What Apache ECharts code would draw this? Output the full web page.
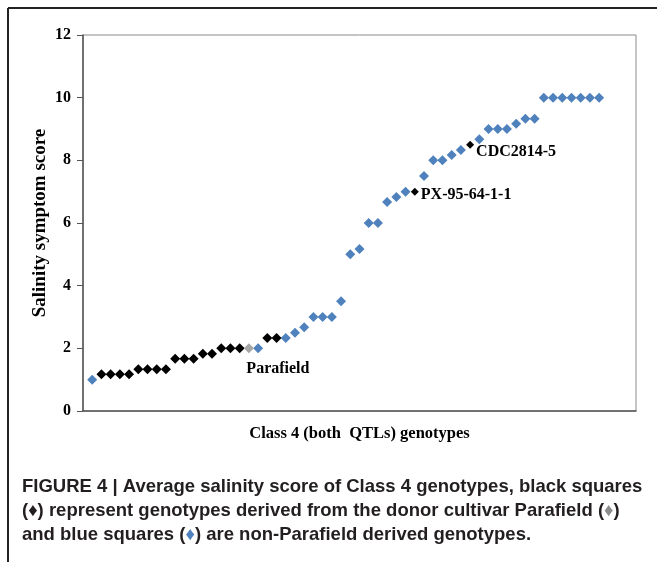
<!DOCTYPE html>
<html><head><meta charset="utf-8">
<script src="https://cdn.jsdelivr.net/npm/echarts@6/dist/echarts.min.js"></script>
<style>html,body{margin:0;padding:0;background:#fff}#c{width:657px;height:562px}</style>
</head><body><div id="c"></div>
<script>
// Genotype order along the x axis (1..56)
const genotypes = [1,2,3,4,5,6,7,8,9,10,11,12,13,14,15,16,17,18,19,20,21,22,23,24,25,26,27,28,29,30,31,32,33,34,35,36,37,38,39,40,41,42,43,44,45,46,47,48,49,50,51,52,53,54,55,56];
// Average salinity symptom score per genotype
const scores = [1.0,1.17,1.17,1.17,1.17,1.33,1.33,1.33,1.33,1.67,1.67,1.67,1.83,1.83,2.0,2.0,2.0,2.0,2.0,2.33,2.33,2.33,2.5,2.67,3.0,3.0,3.0,3.5,5.0,5.17,6.0,6.0,6.67,6.83,7.0,7.0,7.5,8.0,8.0,8.17,8.33,8.5,8.67,9.0,9.0,9.0,9.17,9.33,9.33,10.0,10.0,10.0,10.0,10.0,10.0,10.0];
// Origin: N = non-Parafield (blue), P = Parafield derived (black), D = donor Parafield (gray)
const origin = ['N','P','P','P','P','P','P','P','P','P','P','P','P','P','P','P','P','D','N','P','P','N','N','N','N','N','N','N','N','N','N','N','N','N','N','P','N','N','N','N','N','P','N','N','N','N','N','N','N','N','N','N','N','N','N','N'];
// Named genotypes
const labelNames = {18:'Parafield', 36:'PX-95-64-1-1', 42:'CDC2814-5'};
const yTicks = [0,2,4,6,8,10,12];
const xTitle = 'Class 4 (both  QTLs) genotypes';
const yTitle = 'Salinity symptom score';

const labelStyle = {
  18: {show:true, position:'bottom', distance:5, offset:[29,3]},
  36: {show:true, position:'right', distance:2, offset:[0,3]},
  42: {show:true, position:'right', distance:2, offset:[0,7]}
};
const serif = '"Liberation Serif","Times New Roman",serif';

function buildData(code){
  const out = [];
  genotypes.forEach((g,i)=>{
    if(origin[i]!==code) return;
    const item = {value:[g, scores[i]]};
    if(labelNames[g]){
      item.label = Object.assign({formatter: labelNames[g], color:'#000', fontFamily:serif, fontWeight:'bold', fontSize:16}, labelStyle[g]);
      if(code==='P') item.symbolSize = 8;
    }
    out.push(item);
  });
  return out;
}

const chart = echarts.init(document.getElementById('c'), null, {renderer:'canvas'});
const capFont = '"Liberation Sans",Arial,sans-serif';
const capCss = 'bold 18.5px ' + capFont;
chart.setOption({
  animation:false,
  backgroundColor:'#fff',
  grid:{left:83, right:21, top:35, bottom:151, show:true, borderColor:'#8a8a8a', borderWidth:1, backgroundColor:'transparent'},
  xAxis:{type:'value', min:0, max:60, axisLabel:{show:false}, axisTick:{show:false}, splitLine:{show:false},
    axisLine:{show:true, lineStyle:{color:'#555', width:1.5}},
    name:xTitle, nameLocation:'middle', nameGap:14,
    nameTextStyle:{fontFamily:serif, fontWeight:'bold', fontSize:16.5, color:'#000'}},
  yAxis:{type:'value', min:yTicks[0], max:yTicks[yTicks.length-1], interval:2, splitLine:{show:false},
    axisLine:{show:true, lineStyle:{color:'#555', width:1.5}},
    axisTick:{show:true, inside:false, length:6, lineStyle:{color:'#555'}},
    axisLabel:{fontFamily:serif, fontWeight:'bold', fontSize:16, color:'#000', margin:12},
    name:yTitle, nameLocation:'middle', nameRotate:90, nameGap:33, nameMoveOverlap:false,
    nameTextStyle:{fontFamily:serif, fontWeight:'bold', fontSize:19, color:'#000'}},
  series:[
    {type:'scatter', symbol:'diamond', symbolSize:10, itemStyle:{color:'#4F81BD', opacity:1}, data:buildData('N')},
    {type:'scatter', symbol:'diamond', symbolSize:10, itemStyle:{color:'#000000', opacity:1}, data:buildData('P')},
    {type:'scatter', symbol:'diamond', symbolSize:10, itemStyle:{color:'#A6A6A6', opacity:1}, data:buildData('D')}
  ],
  graphic:[
    {type:'line', shape:{x1:8, y1:8, x2:657, y2:8}, style:{stroke:'#222', lineWidth:2}},
    {type:'line', shape:{x1:8, y1:8, x2:8, y2:562}, style:{stroke:'#222', lineWidth:2}},
    {type:'text', left:22, top:477, style:{text:'FIGURE 4 | Average salinity score of Class 4 genotypes, black squares', font:capCss, fill:'#231f20'}},
    {type:'text', left:22, top:501, style:{text:'({k|♦}) represent genotypes derived from the donor cultivar Parafield ({g|♦})', font:capCss, fill:'#231f20',
      rich:{k:{fill:'#231f20', font:capCss}, g:{fill:'#8c8c8c', font:capCss}}}},
    {type:'text', left:22, top:525, style:{text:'and blue squares ({b|♦}) are non-Parafield derived genotypes.', font:capCss, fill:'#231f20',
      rich:{b:{fill:'#4F81BD', font:capCss}}}}
  ]
});
</script></body></html>
